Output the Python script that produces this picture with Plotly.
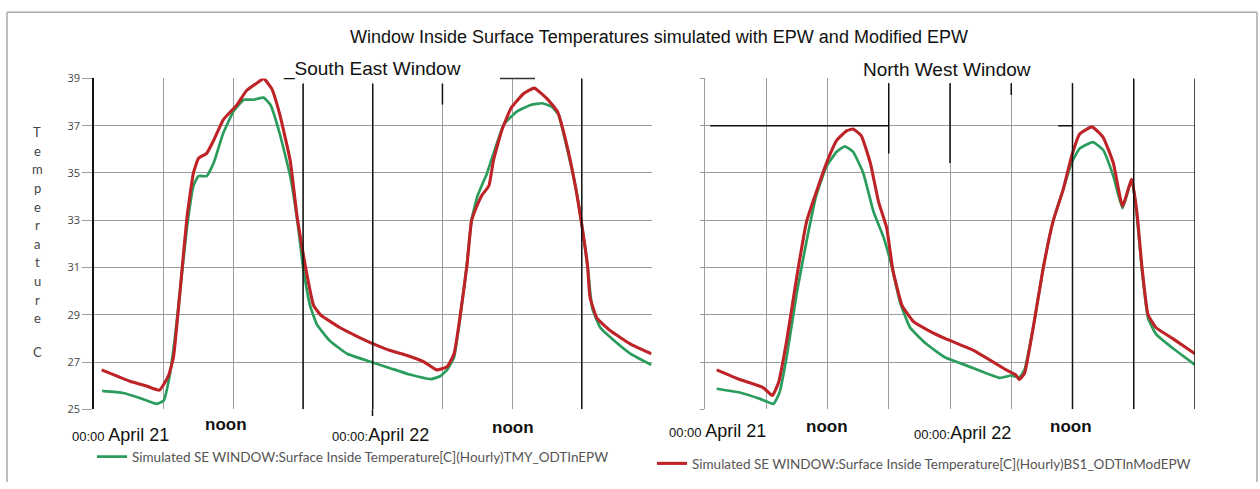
import plotly.graph_objects as go

W, H = 1260, 489

# ---------------- data (hours from 00:00 April 21, temperature in C) ----------------
se_tmy_hours = [0.7, 2.5, 4.0, 5.4, 6.0, 6.55, 7.0, 7.4, 8.0, 8.56, 9.0, 9.7, 10.3, 11.1, 12.0, 12.9,
                13.7, 14.6, 15.2, 16.0, 16.9, 17.5, 18.0, 18.6, 19.2, 20.3, 21.8, 23.8, 25.5, 27.2,
                29.0, 29.8, 30.4, 31.0, 31.5, 32.1, 32.5, 33.0, 33.5, 33.8, 34.4, 35.3, 36.4, 37.6,
                38.6, 39.4, 40.0, 40.7, 41.5, 42.0, 42.5, 42.9, 43.6, 44.8, 46.2, 48.0]
se_tmy_temp = [25.78, 25.69, 25.47, 25.23, 25.37, 26.53, 28.17, 29.96, 32.68, 34.46, 34.87, 34.87, 35.42,
               36.65, 37.6, 38.1, 38.1, 38.19, 37.88, 36.65, 34.85, 33.0, 31.04, 29.4, 28.58, 27.9,
               27.35, 27.01, 26.74, 26.47, 26.28, 26.4, 26.67, 27.2, 28.8, 31.1, 33.0, 34.0, 34.6,
               34.94, 35.83, 37.06, 37.6, 37.88, 37.95, 37.81, 37.47, 36.1, 34.32, 32.82, 31.04,
               29.27, 28.45, 27.9, 27.35, 26.88]

se_mod_hours = [0.66, 3.1, 4.5, 5.63, 6.4, 6.84, 7.4, 8.0, 8.56, 9.0, 9.7, 10.3, 11.14, 12.3, 13.16,
                14.3, 14.6, 15.3, 16.0, 16.9, 17.5, 18.2, 18.9, 19.5, 21.2, 22.6, 24.1, 25.5, 26.9,
                28.4, 29.5, 30.4, 31.0, 31.5, 32.1, 32.5, 32.8, 33.4, 34.0, 34.4, 35.1, 35.9, 37.0,
                37.9, 39.0, 39.9, 40.7, 41.5, 42.0, 42.5, 42.7, 43.3, 44.5, 46.2, 48.0]
se_mod_temp = [26.67, 26.19, 25.99, 25.81, 26.4, 27.2, 29.96, 33.1, 35.0, 35.62, 35.83, 36.38, 37.26,
               37.88, 38.5, 38.9, 39.0, 38.57, 37.47, 35.5, 33.1, 31.04, 29.4, 29.0, 28.45, 28.1,
               27.76, 27.49, 27.29, 27.01, 26.67, 26.8, 27.35, 28.86, 31.04, 32.96, 33.4, 34.06,
               34.46, 35.55, 36.79, 37.74, 38.36, 38.59, 38.15, 37.6, 36.2, 34.3, 32.8, 31.04,
               29.75, 28.86, 28.31, 27.76, 27.35]

nw_tmy_hours = [1.15, 3.4, 5.4, 6.7, 7.3, 8.0, 9.0, 9.96, 10.9, 11.9, 12.9, 13.7, 14.5, 15.5, 16.5,
                17.5, 18.3, 19.1, 20.1, 21.7, 23.5, 26.3, 28.9, 30.0, 30.8, 31.3, 32.2, 33.1, 34.1,
                35.1, 35.9, 36.7, 38.0, 39.0, 40.0, 40.9, 41.8, 42.3, 42.8, 43.4, 44.2, 45.9, 48.0]
nw_tmy_temp = [25.87, 25.71, 25.44, 25.23, 25.71, 27.22, 29.95, 32.14, 34.05, 35.28, 35.9, 36.13,
               35.9, 35.0, 33.37, 32.27, 31.04, 29.54, 28.45, 27.76, 27.2, 26.74, 26.33, 26.43,
               26.35, 26.67, 28.58, 30.9, 32.96, 34.32, 35.42, 36.04, 36.31, 35.97, 34.87, 33.51,
               34.73, 33.23, 30.9, 28.86, 28.17, 27.56, 26.88]

nw_mod_hours = [1.15, 3.4, 5.7, 6.6, 7.2, 8.0, 9.0, 9.96, 10.9, 11.9, 12.9, 13.9, 14.5, 15.3, 16.2,
                17.0, 17.8, 18.4, 19.3, 20.4, 22.0, 23.5, 26.3, 29.5, 30.4, 30.8, 31.3, 32.2, 33.1,
                34.1, 35.1, 35.9, 36.7, 37.9, 39.0, 40.0, 40.9, 41.8, 42.3, 42.8, 43.4, 44.2, 45.9, 48.0]
nw_mod_temp = [26.67, 26.26, 25.92, 25.58, 26.12, 27.9, 30.63, 32.96, 34.19, 35.42, 36.38, 36.79,
               36.86, 36.58, 35.42, 33.78, 32.68, 30.9, 29.4, 28.72, 28.31, 28.0, 27.49, 26.67,
               26.47, 26.26, 26.53, 28.58, 30.9, 32.96, 34.32, 35.69, 36.65, 36.95, 36.51, 35.42,
               33.6, 34.73, 33.37, 31.04, 29.0, 28.45, 27.97, 27.35]

y_tick_values = [25, 27, 29, 31, 33, 35, 37, 39]
x_tick_labels = ["00:00 April 21", "noon", "00:00:April 22", "noon"]
series_names = ["Simulated SE WINDOW:Surface Inside Temperature[C](Hourly)TMY_ODTInEPW",
                "Simulated SE WINDOW:Surface Inside Temperature[C](Hourly)BS1_ODTInModEPW"]
chart_title = "Window Inside Surface Temperatures simulated with EPW and Modified EPW"
panel_titles = ["_South East Window", "North West Window"]
y_title_letters = list("Temperature") + ["C"]

# ---------------- styling ----------------
GREEN = "#2a9c5c"
RED = "#bd2327"
GRID = "#9c9c9c"
DARK = "#111111"


def px(x):
    return x / W


def py(y):
    return 1 - y / H


fig = go.Figure()
fig.add_trace(go.Scatter(x=se_tmy_hours, y=se_tmy_temp, mode="lines", name=series_names[0],
                         line=dict(color=GREEN, width=2.7, shape="spline", smoothing=0.4),
                         xaxis="x", yaxis="y", legend="legend"))
fig.add_trace(go.Scatter(x=se_mod_hours, y=se_mod_temp, mode="lines", name=series_names[1],
                         line=dict(color=RED, width=3.1, shape="spline", smoothing=0.4),
                         xaxis="x", yaxis="y", showlegend=False))
fig.add_trace(go.Scatter(x=nw_tmy_hours, y=nw_tmy_temp, mode="lines", name=series_names[0],
                         line=dict(color=GREEN, width=2.7, shape="spline", smoothing=0.4),
                         xaxis="x2", yaxis="y2", showlegend=False))
fig.add_trace(go.Scatter(x=nw_mod_hours, y=nw_mod_temp, mode="lines", name=series_names[1],
                         line=dict(color=RED, width=3.1, shape="spline", smoothing=0.4),
                         xaxis="x2", yaxis="y2", legend="legend2"))

ydom = [py(414), py(72.7)]
xcommon = dict(range=[0, 48], tick0=0, dtick=6, showgrid=True, gridcolor=GRID, gridwidth=1,
               showticklabels=False, zeroline=False, showline=False, ticks="", fixedrange=True)
fig.update_layout(
    width=W, height=H, autosize=False,
    margin=dict(l=0, r=0, t=0, b=0),
    paper_bgcolor="white", plot_bgcolor="white",
    font=dict(family="Liberation Sans, Arial", color=DARK),
    xaxis=dict(domain=[px(94), px(651.5)], anchor="y", **xcommon),
    xaxis2=dict(domain=[px(705), px(1195)], anchor="y2", **xcommon),
    yaxis=dict(domain=ydom, anchor="x", range=[25, 39], tickvals=y_tick_values,
               showgrid=True, gridcolor=GRID, gridwidth=1, zeroline=False, fixedrange=True,
               ticks="outside", ticklen=10, tickcolor=GRID,
               tickfont=dict(family="Open Sans", size=11, color="#444"),
               showline=True, linecolor=DARK, linewidth=1.5),
    yaxis2=dict(domain=ydom, anchor="x2", range=[25, 39], tickvals=y_tick_values,
                showgrid=True, gridcolor=GRID, gridwidth=1, zeroline=False, fixedrange=True,
                ticks="outside", ticklen=4, tickcolor=GRID, showticklabels=False,
                showline=True, linecolor=GRID, linewidth=1),
    legend=dict(x=px(92), y=py(463), xanchor="left", yanchor="middle", orientation="h",
                bgcolor="rgba(0,0,0,0)", font=dict(family="Lato", size=13.5, color="#555")),
    legend2=dict(x=px(652), y=py(470), xanchor="left", yanchor="middle", orientation="h",
                 bgcolor="rgba(0,0,0,0)", font=dict(family="Lato", size=13.5, color="#555")),
    showlegend=True,
)

ann = []


def add_text(text, x, y, size, xref="paper", family=None, color=DARK):
    f = dict(size=size, color=color)
    if family:
        f["family"] = family
    ann.append(dict(text=text, x=x, y=y, xref=xref, yref="paper", showarrow=False,
                    xanchor="center", yanchor="middle", font=f))


add_text(chart_title, px(659), py(30), 18)
add_text(panel_titles[0], px(372), py(63), 19)
add_text(panel_titles[1], px(947), py(63), 19)

# y axis title as stacked letters
for i, ch in enumerate(y_title_letters):
    ypix = 128 + 19.2 * i if i < len(y_title_letters) - 1 else 355
    add_text(ch, px(37), py(ypix), 13, family="Lato", color="#444")


def label_html(t):
    if t.startswith("00:00"):
        sep = t[5]
        return "<span style='font-size:13px'>00:00%s</span>%s" % (
            sep if sep == ":" else "&nbsp;", t[6:])
    return "<b>%s</b>" % t


# x labels: (axis, hour position, pixel y)
label_pos = {
    "x": [(2.3, 440), (11.4, 430), (24.65, 440), (36.1, 433)],
    "x2": [(1.18, 436), (11.95, 432), (25.2, 438), (35.85, 432)],
}
for axis, plist in label_pos.items():
    for t, (hx, ypix) in zip(x_tick_labels, plist):
        fs = 18 if t.startswith("00:00") else 17
        add_text(label_html(t), hx, py(ypix), fs, xref=axis)
fig.update_layout(annotations=ann)

# ---------------- decorative scan artefacts & frame ----------------
shapes = []
for (x0, y0, x1, y1) in [(7, 4.5, 1257, 4.5), (7, 4.5, 7, 489), (1257, 4.5, 1257, 489)]:
    shapes.append(dict(type="line", xref="paper", yref="paper", x0=px(x0), y0=py(y0), x1=px(x1), y1=py(y1),
                       line=dict(color="#a8a8a8", width=1.5)))
for (x0, x1) in [(282, 500), (863, 1087)]:
    shapes.append(dict(type="rect", xref="paper", yref="paper", x0=px(x0), x1=px(x1), y0=py(77), y1=py(68),
                       fillcolor="white", line=dict(width=0), layer="above"))
blk = dict(color=DARK, width=1.5)
for (xa, ya, x0, y0, x1, y1) in [
    ("x", "y", 18, 25, 18, 38.78),
    ("x", "y", 24, 25, 24, 38.78),
    ("x", "y", 30, 37.9, 30, 38.78),
    ("x", "y", 42, 25, 42, 39),
    ("x2", "y2", 0.5, 37, 18, 37),
    ("x2", "y2", 18, 35.83, 18, 38.8),
    ("x2", "y2", 24, 35.42, 24, 38.8),
    ("x2", "y2", 30, 38.3, 30, 38.8),
    ("x2", "y2", 34.6, 37, 36, 37),
    ("x2", "y2", 36, 25, 36, 38.8),
    ("x2", "y2", 42, 25, 42, 39),
    ("x2", "y2", 48, 25, 48, 39),
]:
    shapes.append(dict(type="line", xref=xa, yref=ya, x0=x0, y0=y0, x1=x1, y1=y1, line=blk, layer="above"))
# short extension of the midnight line below the left axis, and black top segment
shapes.append(dict(type="line", xref="paper", yref="paper", x0=px(372.5), x1=px(372.5), y0=py(414), y1=py(421),
                   line=blk, layer="above"))
shapes.append(dict(type="line", xref="paper", yref="paper", x0=px(500), x1=px(535), y0=py(72.7), y1=py(72.7),
                   line=dict(color="#333", width=1.5), layer="above"))
fig.update_layout(shapes=shapes)

fig.write_html("out.html", config={"displayModeBar": False},
               post_script="document.body.style.margin='0';document.body.style.overflow='hidden';")
